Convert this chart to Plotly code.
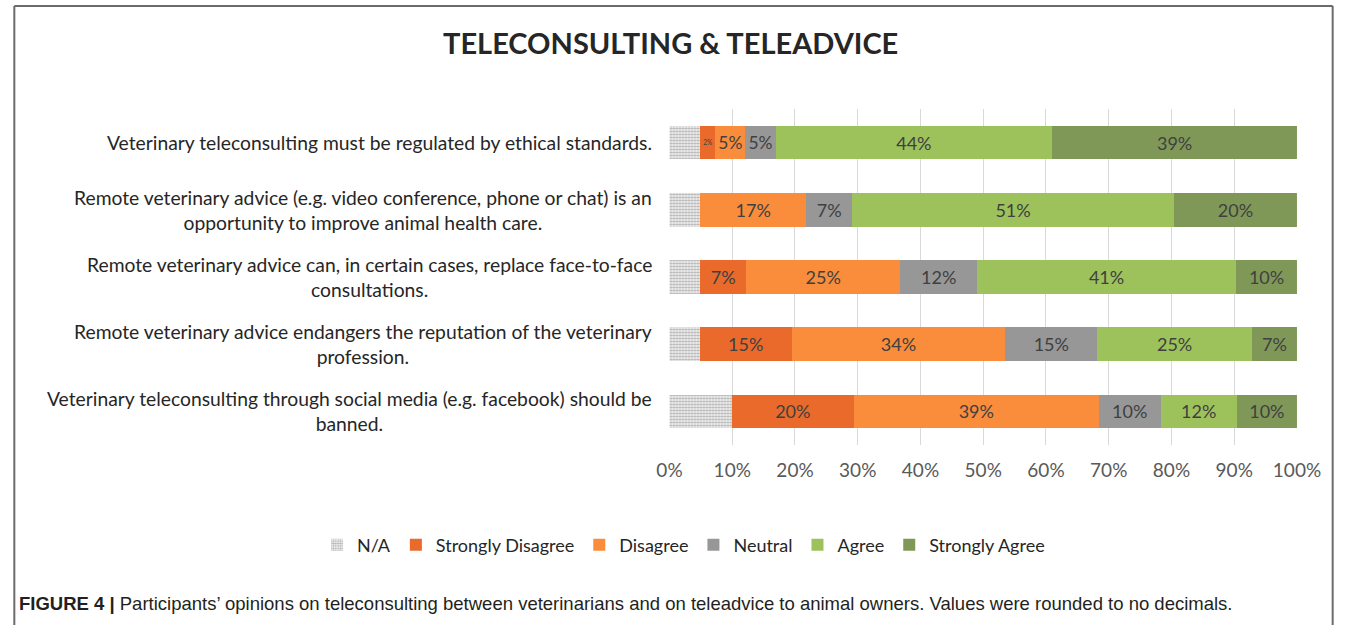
import plotly.graph_objects as go

W, H = 1358, 625

categories = [
    "Veterinary teleconsulting must be regulated by ethical standards.",
    "Remote veterinary advice (e.g. video conference, phone or chat) is an<br>opportunity to improve animal health care.",
    "Remote veterinary advice can, in certain cases, replace face-to-face<br>consultations.",
    "Remote veterinary advice endangers the reputation of the veterinary<br>profession.",
    "Veterinary teleconsulting through social media (e.g. facebook) should be<br>banned.",
]
series_names = ["N/A", "Strongly Disagree", "Disagree", "Neutral", "Agree", "Strongly Agree"]
na = [4.9, 4.9, 4.9, 4.8, 9.9]
strongly_disagree = [2.4, 0.0, 7.3, 14.7, 19.5]
disagree = [4.8, 16.9, 24.6, 34.0, 39.0]
neutral = [4.8, 7.3, 12.2, 14.7, 9.9]
agree = [44.1, 51.3, 41.3, 24.6, 12.1]
strongly_agree = [39.0, 19.6, 9.7, 7.2, 9.6]
tick_values = [0, 10, 20, 30, 40, 50, 60, 70, 80, 90, 100]
tick_labels = [f"{v}%" for v in tick_values]

colors = ["#ffffff", "#EA6A2B", "#F98D3B", "#979797", "#9DC25B", "#7F9858"]
values = [na, strongly_disagree, disagree, neutral, agree, strongly_agree]

# horizontal placement helper: the rendered page maps paper px -> 14 + 0.972*px
def fx(px):
    return min(max((px - 14) / 1320, 0.0), 1.0)

def fy(py):
    return 1 - py / H

fig = go.Figure()
for i, (name, vals, col) in enumerate(zip(series_names, values, colors)):
    if i == 0:
        marker = dict(color="#ffffff", line=dict(width=0),
                      pattern=dict(shape=".", fgcolor="#6e6e6e", bgcolor="#ffffff",
                                   size=3, solidity=0.6))
        text = ["" for v in vals]
    else:
        marker = dict(color=col, line=dict(width=0))
        text = [f"{round(v)}%" if v > 0 else "" for v in vals]
    fig.add_trace(go.Bar(
        y=categories, x=vals, name=name, orientation="h",
        marker=marker, text=text, textposition="inside",
        insidetextanchor="middle", textangle=0,
        textfont=dict(family="Lato", size=18, color="#404040"),
        hoverinfo="skip",
    ))

fig.update_layout(
    width=W, height=H, autosize=False,
    margin=dict(l=0, r=0, t=0, b=0),
    paper_bgcolor="#ffffff", plot_bgcolor="#ffffff",
    barmode="stack", bargap=0.5,
    showlegend=True,
    legend=dict(orientation="h", x=fx(684), xanchor="center", y=fy(545), yanchor="middle",
                font=dict(family="Lato", size=18, color="#262626"),
                traceorder="normal", itemclick=False),
    xaxis=dict(domain=[fx(670), fx(1297)], range=[0, 100], tickvals=tick_values, ticktext=tick_labels,
               showgrid=True, gridcolor="#d9d9d9", gridwidth=1, zeroline=False,
               showline=False, ticks="", ticklabelstandoff=12,
               tickfont=dict(family="Lato", size=19, color="#595959")),
    yaxis=dict(domain=[fy(445), fy(109)], autorange="reversed", showticklabels=False,
               showgrid=False, zeroline=False, showline=False, ticks=""),
)

for cat in categories:
    fig.add_annotation(x=fx(655), xref="paper", xanchor="right", y=cat, yref="y",
                       text=cat, showarrow=False, align="center",
                       font=dict(family="Lato", size=19.3, color="#262626"))

fig.add_annotation(x=fx(671), xref="paper", y=fy(42), yref="paper", xanchor="center",
                   yanchor="middle", text="<b>TELECONSULTING &amp; TELEADVICE</b>", showarrow=False,
                   font=dict(family="Lato", size=29, color="#262626"))

fig.add_annotation(x=fx(18), xref="paper", xanchor="left", y=fy(603), yref="paper",
                   yanchor="middle", showarrow=False, align="left",
                   text="<b>FIGURE 4 |</b> Participants’ opinions on teleconsulting between veterinarians and on teleadvice to animal owners. Values were rounded to no decimals.",
                   font=dict(family="Liberation Sans", size=18.5, color="#231f20"))

frame = dict(type="line", xref="paper", yref="paper", line=dict(color="#6b6b6b", width=2))
fig.add_shape(**frame, x0=0.001, x1=0.001, y0=0, y1=fy(6))
fig.add_shape(**frame, x0=0.999, x1=0.999, y0=0, y1=fy(6))
fig.add_shape(**frame, x0=0.001, x1=0.999, y0=fy(6), y1=fy(6))

fig.write_html("out.html", config={"responsive": False})
